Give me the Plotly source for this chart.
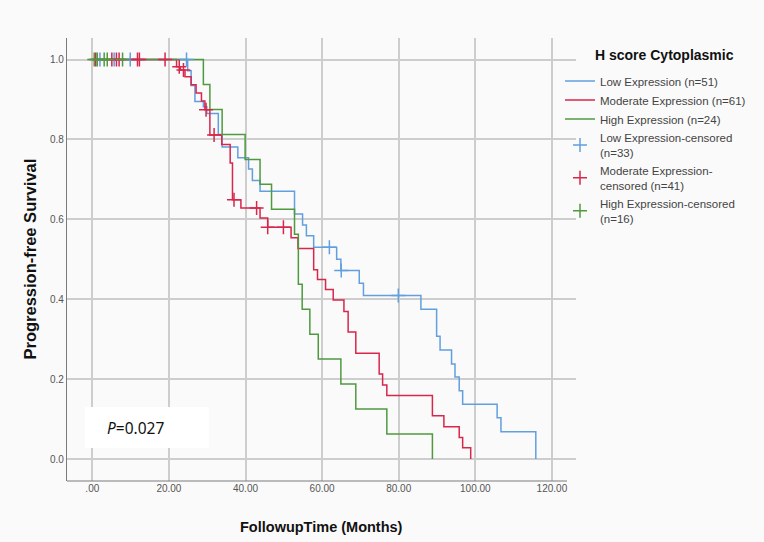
import plotly.graph_objects as go
import bisect

# ---- data ----
low_t = [0, 24.9, 25.8, 26.8, 29.0, 29.9, 32.9, 33.9, 38.0, 40.8, 41.8, 43.8, 52.8, 54.9, 55.9,
         57.8, 63.8, 64.9, 69.7, 70.8, 85.8, 89.9, 90.8, 93.8, 94.7, 95.8, 96.7, 105.7, 106.7, 115.8]
low_s = [1.0, 0.972, 0.935, 0.895, 0.882, 0.865, 0.812, 0.781, 0.754, 0.726, 0.697, 0.670, 0.613,
         0.586, 0.559, 0.530, 0.500, 0.472, 0.440, 0.409, 0.375, 0.307, 0.273, 0.238, 0.205, 0.171,
         0.137, 0.103, 0.068, 0.0]
low_cens = [2.0, 5.7, 9.9, 24.6, 61.9, 65.0, 79.9]

mod_t = [0, 22.0, 23.0, 24.2, 25.8, 27.1, 28.5, 29.4, 30.7, 33.8, 36.0, 36.6, 38.8, 43.8, 45.8,
         51.9, 53.7, 57.8, 58.8, 60.9, 62.9, 65.7, 66.8, 68.8, 74.9, 75.8, 76.9, 88.8, 91.8, 95.8,
         96.7, 98.8]
mod_s = [1.0, 0.982, 0.974, 0.957, 0.937, 0.916, 0.896, 0.874, 0.811, 0.787, 0.741, 0.649, 0.628,
         0.603, 0.580, 0.554, 0.527, 0.474, 0.449, 0.424, 0.398, 0.369, 0.318, 0.265, 0.213, 0.185,
         0.159, 0.108, 0.081, 0.054, 0.028, 0.0]
mod_cens = [0.9, 5.1, 6.3, 7.0, 11.8, 12.3, 19.0, 22.7, 23.8, 29.7, 31.8, 37.0, 42.9, 45.8, 49.9]

high_t = [0, 29.0, 30.7, 33.9, 39.9, 43.8, 46.8, 52.8, 53.8, 54.8, 56.8, 59.0, 64.9, 68.8, 76.9, 88.8]
high_s = [1.0, 0.9375, 0.875, 0.8125, 0.75, 0.6875, 0.625, 0.5625, 0.4375, 0.375, 0.3125, 0.25,
          0.1875, 0.125, 0.0625, 0.0]
high_cens = [0.5, 1.3, 3.1, 3.9, 7.9]

x_ticks = [0, 20, 40, 60, 80, 100, 120]
x_labels = [".00", "20.00", "40.00", "60.00", "80.00", "100.00", "120.00"]
y_ticks = [0.0, 0.2, 0.4, 0.6, 0.8, 1.0]
y_labels = ["0.0", "0.2", "0.4", "0.6", "0.8", "1.0"]

names = ["Low Expression (n=51)", "Moderate Expression (n=61)", "High Expression (n=24)",
         "Low Expression-censored<br>(n=33)", "Moderate Expression-<br>censored (n=41)",
         "High Expression-censored<br>(n=16)"]

BLUE = "#629fdf"
RED = "#d8264c"
GREEN = "#4f9a3f"


def step_value(ts, ss, t):
    i = bisect.bisect_right(ts, t) - 1
    return ss[max(i, 0)]


fig = go.Figure()
groups = [(low_t, low_s, low_cens, BLUE), (mod_t, mod_s, mod_cens, RED), (high_t, high_s, high_cens, GREEN)]

for k, (ts, ss, cs, col) in enumerate(groups):
    fig.add_trace(go.Scatter(x=ts, y=ss, mode="lines", line=dict(color=col, width=1.5, shape="hv"),
                             name=names[k], legendrank=k + 1, hoverinfo="skip"))
for k, (ts, ss, cs, col) in enumerate(groups):
    fig.add_trace(go.Scatter(x=cs, y=[step_value(ts, ss, c) for c in cs], mode="markers",
                             marker=dict(symbol="cross-thin", size=10, line=dict(color=col, width=1.5)),
                             name=names[k + 3], legendrank=k + 4, hoverinfo="skip"))

L, R, T, B = 67, 576, 38, 481
W, H = 764, 542
x0_px, px_per = 92.3, 3.83
y1_px, y0_px = 59.5, 459.0
xr = [(L - x0_px) / px_per, (R - x0_px) / px_per]
ys = (y0_px - y1_px)
yr = [-(B - y0_px) / ys, 1 + (y1_px - T) / ys]

grid = "#cdcdcd"
fig.update_layout(
    width=W, height=H,
    margin=dict(l=L, r=W - R, t=T, b=H - B, pad=0, autoexpand=False),
    paper_bgcolor="#fafafa", plot_bgcolor="#fafafa",
    font=dict(family="Liberation Sans, Arial, sans-serif", color="#444444", size=10),
    showlegend=True,
    legend=dict(x=(560 - L) / (R - L), y=(B - 66.5) / (B - T), xanchor="left", yanchor="top",
                bgcolor="rgba(0,0,0,0)", font=dict(size=11.5, color="#444444"),
                tracegroupgap=0, itemwidth=30),
    xaxis=dict(range=xr, tickvals=x_ticks, ticktext=x_labels, showgrid=True, gridcolor=grid,
               gridwidth=1.5, zeroline=False, showline=False, ticks="", automargin=False,
               tickfont=dict(size=10, color="#555555")),
    yaxis=dict(range=yr, tickvals=y_ticks, ticktext=y_labels, showgrid=True, gridcolor=grid,
               gridwidth=1.5, zeroline=False, showline=True, linecolor="#7a7a7a", linewidth=1.2,
               ticks="", automargin=False, tickfont=dict(size=10, color="#555555")),
)

# bottom axis line (ends a little before the plot edge, as in the reference)
fig.add_shape(type="line", xref="paper", yref="paper", x0=0, x1=(567 - L) / (R - L), y0=0, y1=0,
              line=dict(color="#7a7a7a", width=1.2))
# P-value box
fig.add_shape(type="rect", xref="paper", yref="paper",
              x0=(85 - L) / (R - L), x1=(209 - L) / (R - L),
              y0=(B - 448) / (B - T), y1=(B - 407) / (B - T),
              fillcolor="white", line=dict(width=0), layer="above")
fig.add_annotation(xref="paper", yref="paper", x=(105 - L) / (R - L), y=(B - 428) / (B - T),
                   xanchor="left", yanchor="middle", showarrow=False,
                   text="<i>P</i>=0.027", font=dict(family="Noto Sans, Open Sans, sans-serif", size=15.5, color="#111111"))
# axis titles
fig.add_annotation(xref="paper", yref="paper", x=0.5, y=-(527 - B) / (B - T), xanchor="center",
                   yanchor="middle", showarrow=False, text="<b>FollowupTime (Months)</b>",
                   font=dict(size=14.5, color="#111111"))
fig.add_annotation(xref="paper", yref="paper", x=-(L - 29) / (R - L), y=0.5, xanchor="center",
                   yanchor="middle", showarrow=False, textangle=-90, text="<b>Progression-free Survival</b>",
                   font=dict(size=16.5, color="#111111"))
# legend title
fig.add_annotation(xref="paper", yref="paper", x=(593 - L) / (R - L), y=(B - 55) / (B - T),
                   xanchor="left", yanchor="middle", showarrow=False, text="<b>H score Cytoplasmic</b>",
                   font=dict(size=14, color="#111111"))

fig.write_html("out.html", config={"displayModeBar": False},
               post_script="document.body.style.margin='0';document.body.style.overflow='hidden';")
